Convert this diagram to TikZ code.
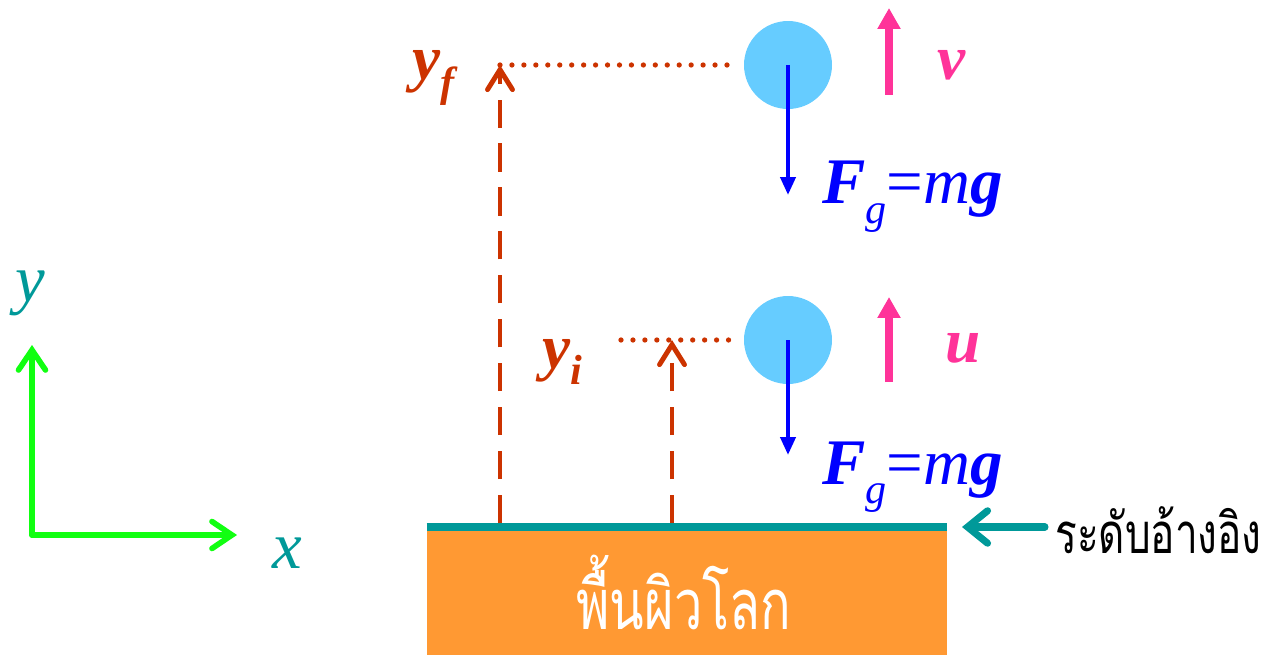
\documentclass[tikz,border=0pt]{standalone}
\usepackage{fontspec}
\setmainfont{Liberation Serif}
\newfontfamily\thaifont[Script=Thai]{Loma}
\usetikzlibrary{arrows.meta, positioning}
\definecolor{axisgreen}{HTML}{11FF11}
\definecolor{axisteal}{HTML}{009999}
\definecolor{heightbrown}{HTML}{CC3300}
\definecolor{ballblue}{HTML}{66CCFF}
\definecolor{forceblue}{HTML}{0000FF}
\definecolor{speedpink}{HTML}{FF3399}
\definecolor{groundorange}{HTML}{FF9933}
\newcommand{\lowsub}[2]{\raisebox{#1}{\fontsize{24}{24}\selectfont #2}}

\begin{document}
\begin{tikzpicture}[
    x=0.02cm, y=-0.02cm,
    axis/.style={
        -{Straight Barb[length=4mm, width=5.4mm, line cap=round]},
        line width=3.2pt,
        line cap=round,
        axisgreen
    },
    axislabel/.style={
        font=\fontsize{38}{40}\selectfont\itshape,
        text=axisteal,
        inner sep=0pt
    },
    heightline/.style={
        -{Straight Barb[length=4mm, width=5mm, line cap=round]},
        line width=2.8pt,
        dash pattern=on 16pt off 9pt,
        heightbrown
    },
    levelline/.style={
        line width=3pt,
        line cap=round,
        dash pattern=on 0pt off 6.8pt,
        heightbrown
    },
    heightlabel/.style={
        font=\fontsize{36}{40}\selectfont\bfseries\itshape,
        text=heightbrown,
        inner sep=0pt
    },
    ball/.style={
        circle,
        fill=ballblue,
        minimum size=1.76cm,
        inner sep=0pt
    },
    force/.style={
        -{Triangle[length=3.6mm, width=3mm]},
        line width=2.3pt,
        forceblue
    },
    forcelabel/.style={
        font=\fontsize{37}{40}\selectfont,
        text=forceblue,
        inner sep=0pt
    },
    speed/.style={
        -{Triangle[length=4.2mm, width=4.4mm]},
        line width=4.2pt,
        speedpink
    },
    speedlabel/.style={
        font=\fontsize{36}{40}\selectfont\bfseries\itshape,
        text=speedpink,
        inner sep=0pt
    },
    groundbox/.style={
        rectangle,
        fill=groundorange,
        minimum width=10.4cm,
        minimum height=2.56cm,
        inner sep=0pt
    },
    refline/.style={
        line width=4.5pt,
        axisteal
    },
    refarrow/.style={
        -{Straight Barb[length=4mm, width=6.5mm, line cap=round]},
        line width=4pt,
        line cap=round,
        axisteal
    }
]
    \useasboundingbox (0,0) rectangle (1268,655);

    % axes
    \coordinate (origin) at (32,535);
    \coordinate (yEnd) at (32,345);
    \coordinate (xEnd) at (237,535);
    \draw[axis] (origin) -- (yEnd);
    \draw[axis] (origin) -- (xEnd);
    \node[axislabel] (yLabel) at (30,293) {y};
    \node[axislabel] (xLabel) at (287,553) {x};

    % ground and reference level
    \node[groundbox] (ground) at (687,591) {};
    \node[text=white, font=\fontsize{40}{44}\selectfont\thaifont, inner sep=0pt] (groundLabel) at (684,592) {\scalebox{0.72}[1]{พื้นผิวโลก}};
    \draw[refline] (ground.north west) -- (ground.north east);
    \coordinate (refTail) at (1045,527);
    \coordinate (refTip) at (962,527);
    \draw[refarrow] (refTail) -- (refTip);
    \node[anchor=west, font=\fontsize{32}{36}\selectfont\thaifont, inner sep=0pt] (refLabel) at (1055,530) {\scalebox{0.72}[1]{ระดับอ้างอิง}};

    % balls
    \node[ball] (topBall) at (788,65) {};
    \node[ball] (lowBall) at (788,340) {};

    % heights
    \coordinate (yfBase) at (500,523);
    \coordinate (yfTop) at (500,65);
    \coordinate (yiBase) at (672,523);
    \coordinate (yiTop) at (672,340);
    \coordinate (yiStart) at (621,340);
    \draw[heightline] (yfBase) -- (yfTop);
    \draw[heightline] (yiBase) -- (yiTop);
    \draw[levelline] (yfTop) -- ([xshift=-8pt]topBall.west);
    \draw[levelline] (yiStart) -- ([xshift=-8pt]lowBall.west);
    \node[heightlabel, anchor=base west] (yfLabel) at (412,80) {y\lowsub{-0.26em}{f}};
    \node[heightlabel, anchor=base west] (yiLabel) at (542,368) {y\lowsub{-0.26em}{i}};

    % weight
    \coordinate (topForceEnd) at (788,195);
    \coordinate (lowForceEnd) at (788,455);
    \draw[force] (topBall.center) -- (topForceEnd);
    \draw[force] (lowBall.center) -- (lowForceEnd);
    \node[forcelabel, anchor=base west] (topForce) at (822,204) {\textbf{\textit{F}}\lowsub{-0.3em}{\textit{g}}=\textit{m}\textbf{\textit{g}}};
    \node[forcelabel, anchor=base west] (lowForce) at (822,484) {\textbf{\textit{F}}\lowsub{-0.3em}{\textit{g}}=\textit{m}\textbf{\textit{g}}};

    % speeds
    \coordinate (vTail) at (889,95);
    \coordinate (vTip) at (889,8);
    \coordinate (uTail) at (889,382);
    \coordinate (uTip) at (889,297);
    \draw[speed] (vTail) -- (vTip);
    \draw[speed] (uTail) -- (uTip);
    \node[speedlabel, anchor=base west] (vLabel) at (937,80) {v};
    \node[speedlabel, anchor=base west] (uLabel) at (945,362) {u};
\end{tikzpicture}
\end{document}
